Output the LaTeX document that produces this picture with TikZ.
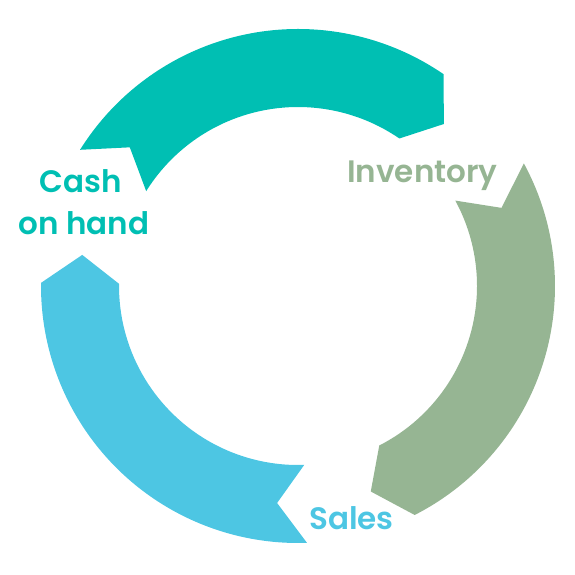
\documentclass[tikz,border=0pt]{standalone}
\usepackage{fontspec}
\newfontfamily\lblfont{Poppins SemiBold}
\definecolor{cteal}{HTML}{00BFB3}
\definecolor{cgreen}{HTML}{96B593}
\definecolor{cblue}{HTML}{4DC6E3}
\tikzset{
  lbl/.style={inner sep=0pt, font=\fontsize{31}{36}\lblfont},
}
% arc arrow: #1 colour, #2 tail angle, #3 head angle (clockwise from #2 to #3)
\newcommand{\arcarrow}[3]{%
  \fill[#1] (#2:257) arc[start angle=#2, end angle=#3, radius=257]
    -- ({#3-7.5}:218) -- (#3:179)
    arc[start angle=#3, end angle=#2, radius=179]
    -- ({#2-7.5}:218) -- cycle;}
\begin{document}
\begin{tikzpicture}[x=1pt,y=1pt]
\useasboundingbox (0,0) rectangle (575,575);
\begin{scope}[shift={(298,289)}]
  \arcarrow{cteal}{148}{55.5}
  \arcarrow{cgreen}{28.5}{-63}
  \arcarrow{cblue}{-88}{-180.7}
\end{scope}
\node[lbl, anchor=base, text=cteal] (cash) at (81,382) {Cash};
\node[lbl, anchor=base, text=cteal] (onhand) at (84,340) {on hand};
\node[lbl, anchor=base west, text=cgreen] (inv) at (347,392) {Inventory};
\node[lbl, anchor=base west, text=cblue] (sales) at (309,45) {Sales};
\end{tikzpicture}
\end{document}
